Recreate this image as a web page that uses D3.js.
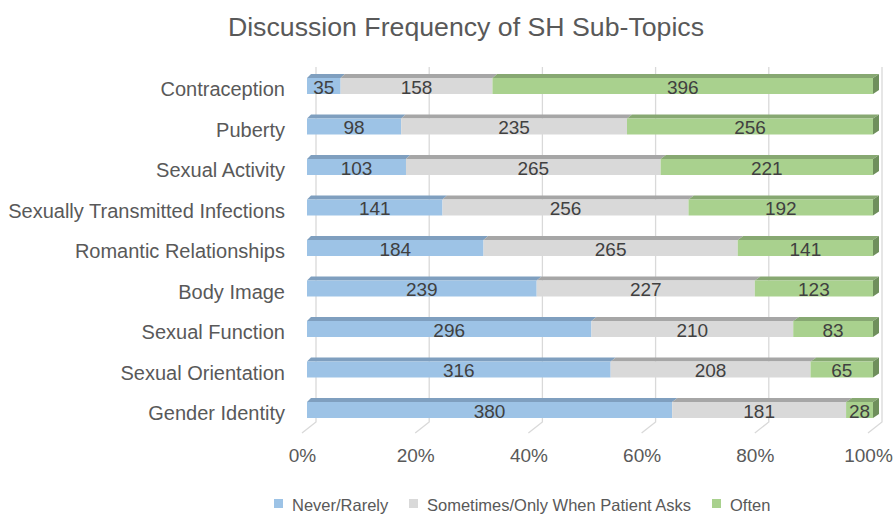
<!DOCTYPE html>
<html>
<head>
<meta charset="utf-8">
<script src="https://cdn.jsdelivr.net/npm/d3@7"></script>
<style>
  body { margin: 0; background: #fff; }
  text { font-family: "Liberation Sans", Arial, sans-serif; }
</style>
</head>
<body>
<div id="chart"></div>
<script>
// Data
var categories = ["Contraception", "Puberty", "Sexual Activity", "Sexually Transmitted Infections",
  "Romantic Relationships", "Body Image", "Sexual Function", "Sexual Orientation", "Gender Identity"];
var neverRarely = [35, 98, 103, 141, 184, 239, 296, 316, 380];
var sometimes = [158, 235, 265, 256, 265, 227, 210, 208, 181];
var often = [396, 256, 221, 192, 141, 123, 83, 65, 28];
var seriesNames = ["Never/Rarely", "Sometimes/Only When Patient Asks", "Often"];
var tickValues = [0, 0.2, 0.4, 0.6, 0.8, 1];

var svgWidth = 893;
var svgHeight = 514;

var colors = ["#9dc3e6", "#d9d9d9", "#a9d18e"];
var topColors = ["#7f9fbf", "#a6a6a6", "#87a872"];
var sideColors = ["#6e8bab", "#959595", "#6f8f5c"];

var svg = d3.select("#chart")
  .append("svg")
  .attr("width", svgWidth)
  .attr("height", svgHeight);

// Scales
var x = d3.scaleLinear().domain([0, 1]).range([307, 873]);
var y = d3.scaleBand()
  .domain(categories)
  .range([65.75, 430.25])
  .paddingInner(0.605)
  .paddingOuter(0.3025);

var backShift = 9;   // gridlines sit on the back wall
var depthY = 4;
// a bit of perspective: the depth offset grows to the right
function depthX(px) { return 4 + 2 * (px - x(0)) / (x(1) - x(0)); }

// Build stacked data
var rows = categories.map(function(c, i) {
  return { cat: c, values: [neverRarely[i], sometimes[i], often[i]] };
});
var segments = [];
rows.forEach(function(r) {
  var total = d3.sum(r.values);
  var acc = 0;
  r.values.forEach(function(v, k) {
    segments.push({ cat: r.cat, k: k, value: v, x0: acc / total, x1: (acc + v) / total });
    acc += v;
  });
});

// Title
svg.append("text")
  .attr("x", 466)
  .attr("y", 36)
  .attr("text-anchor", "middle")
  .attr("font-size", "26.7px")
  .attr("fill", "#595959")
  .text("Discussion Frequency of SH Sub-Topics");

// Gridlines on back wall + floor diagonal
var grid = svg.append("g").attr("stroke", "#d9d9d9").attr("stroke-width", 1.3).attr("fill", "none");
var gridTop = 67, gridBottom = 422;
tickValues.forEach(function(t) {
  var bx = x(t) + backShift;
  grid.append("path")
    .attr("d", "M" + bx + "," + gridTop + "V" + gridBottom + "L" + (bx - 14) + "," + (gridBottom + 11));
});

// Axis tick labels
var xAxis = d3.axisBottom(x)
  .tickValues(tickValues)
  .tickFormat(d3.format(".0%"))
  .tickSize(0)
  .tickPadding(0);
var axisG = svg.append("g")
  .attr("transform", "translate(-5, 448)")
  .call(xAxis);
axisG.select(".domain").remove();
axisG.selectAll("text")
  .attr("font-size", "19px")
  .attr("fill", "#595959")
  .attr("font-family", "Liberation Sans, Arial, sans-serif");

// Category labels
var yAxis = d3.axisLeft(y).tickSize(0).tickPadding(0);
var yG = svg.append("g")
  .attr("transform", "translate(285, 4)")
  .call(yAxis);
yG.select(".domain").remove();
yG.selectAll("text")
  .attr("font-size", "20px")
  .attr("fill", "#595959")
  .attr("font-family", "Liberation Sans, Arial, sans-serif");

// Bars: top faces, front faces, right side of last segment
var bars = svg.append("g");
segments.forEach(function(s) {
  var xa = x(s.x0), xb = x(s.x1), yt = y(s.cat), h = y.bandwidth();
  bars.append("path")
    .attr("d", "M" + xa + "," + yt + "L" + (xa + depthX(xa)) + "," + (yt - depthY) +
      "L" + (xb + depthX(xb)) + "," + (yt - depthY) + "L" + xb + "," + yt + "Z")
    .attr("fill", topColors[s.k]);
  bars.append("rect")
    .attr("x", xa)
    .attr("y", yt)
    .attr("width", xb - xa)
    .attr("height", h)
    .attr("fill", colors[s.k]);
  if (s.k === 2) {
    bars.append("path")
      .attr("d", "M" + xb + "," + yt + "L" + (xb + depthX(xb)) + "," + (yt - depthY) +
        "L" + (xb + depthX(xb)) + "," + (yt + h - depthY) + "L" + xb + "," + (yt + h) + "Z")
      .attr("fill", sideColors[s.k]);
  }
});

// Data labels
svg.append("g").selectAll("text")
  .data(segments)
  .enter()
  .append("text")
  .attr("x", d => (x(d.x0) + x(d.x1)) / 2)
  .attr("y", d => y(d.cat) + y.bandwidth() / 2 + 7.5)
  .attr("text-anchor", "middle")
  .attr("font-size", "19px")
  .attr("fill", "#404040")
  .text(d => d.value);

// Legend
var legendX = [274, 409, 712];
var legend = svg.append("g");
seriesNames.forEach(function(n, k) {
  legend.append("rect")
    .attr("x", legendX[k])
    .attr("y", 499)
    .attr("width", 9)
    .attr("height", 9)
    .attr("fill", colors[k]);
  legend.append("text")
    .attr("x", legendX[k] + 18)
    .attr("y", 511)
    .attr("font-size", "16.5px")
    .attr("fill", "#595959")
    .text(n);
});
</script>
</body>
</html>
